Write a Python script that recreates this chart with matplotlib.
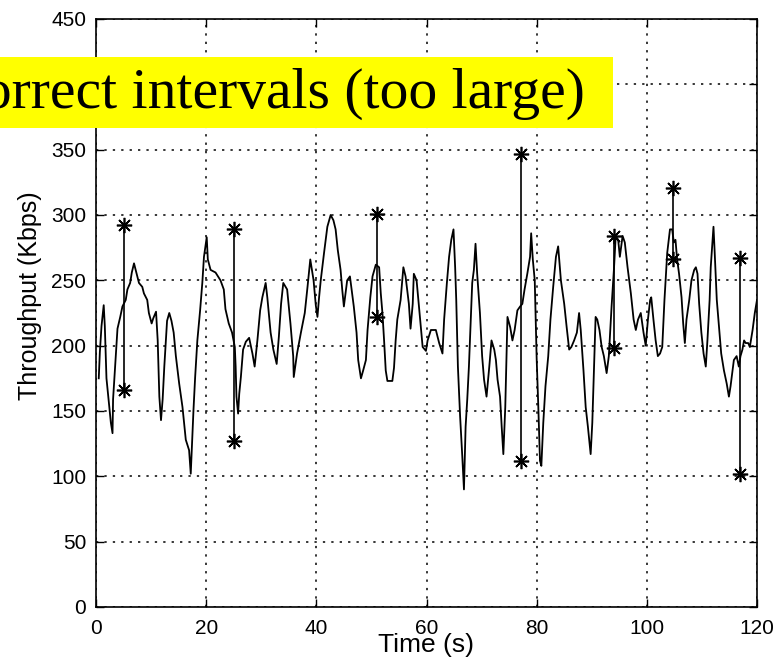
import matplotlib
matplotlib.use("Agg")
import matplotlib.pyplot as plt
from matplotlib.patches import Rectangle

# throughput trace
time_s = [0.5, 0.7, 1.0, 1.4, 1.6, 1.9, 2.7, 3.0, 3.1, 3.6, 3.9, 4.4, 4.8, 5.4, 5.7, 6.2, 6.5, 6.9, 7.2, 7.8,
          8.4, 8.7, 9.3, 9.6, 10.1, 10.4, 10.9, 11.2, 11.5, 11.8, 12.1, 12.4, 12.9, 13.3, 13.7, 14.1, 14.5, 15.1,
          15.7, 16.3, 16.9, 17.2, 17.4, 17.7, 18.0, 18.4, 18.9, 19.3, 19.6, 20.1,
          20.3, 20.8, 21.7, 22.6, 23.2, 23.5, 24.1, 24.7, 25.2, 25.35, 25.5, 25.8, 26.0, 26.3, 26.7, 27.2, 27.8,
          28.4, 28.8, 29.3, 29.8, 30.2, 30.8, 31.1, 31.7, 32.2, 32.8, 33.2, 33.6, 34.0, 34.7, 35.3, 35.8, 35.9,
          36.5, 37.2, 37.9, 38.4, 38.9, 39.5, 39.9,
          40.2, 40.5, 40.8, 41.4, 42.0, 42.6, 43.1, 43.5, 43.9, 44.4, 44.7, 45.0, 45.3, 45.6, 46.1, 46.4, 46.8,
          47.3, 47.6, 48.1, 48.5, 49.0, 49.3, 49.8, 50.2, 50.8, 51.4, 51.7, 52.0, 52.3, 52.6, 52.9, 53.8, 54.1,
          54.4, 54.7, 55.3, 55.8, 56.2, 56.8, 57.1, 57.5, 57.7, 58.2, 58.8, 59.3, 59.9,
          60.2, 60.8, 61.7, 62.3, 62.9, 63.2, 63.7, 64.1, 64.5, 64.9, 65.2, 65.4, 65.7, 66.1, 66.5, 66.8, 67.1,
          67.4, 67.7, 68.0, 68.3, 68.6, 68.9, 69.2, 69.7, 70.1, 70.45, 70.9, 71.4, 71.8, 72.3, 72.6, 72.9, 73.35,
          73.65, 73.95, 74.3, 74.7, 75.2, 75.6, 76.0, 76.5, 77.0, 77.4, 77.8, 78.3, 78.8, 79.0, 79.3, 79.65, 80.0,
          80.3, 80.6, 80.85, 81.2, 81.6, 82.1, 82.5, 83.0, 83.5, 83.9, 84.4, 85.0, 85.45, 85.9, 86.3, 86.8, 87.3,
          87.7, 88.0, 88.5, 88.9, 89.3, 89.8, 90.1, 90.4, 90.7, 91.0, 91.4, 91.8, 92.2, 92.7, 93.1, 93.6, 94.05,
          94.35, 94.8, 95.1, 95.6, 96.0, 96.5, 97.1, 97.6, 98.0, 98.4, 98.9, 99.4, 99.8,
          100.2, 100.6, 100.8, 101.2, 101.6, 102.0, 102.4, 102.8, 103.2, 103.7, 104.2, 104.6, 104.9, 105.2, 105.5,
          105.85, 106.3, 106.6, 106.9, 107.2, 107.7, 108.1, 108.6, 108.9, 109.2, 109.5, 109.9, 110.3, 110.7, 111.0,
          111.4, 111.6, 111.9, 112.1, 112.3, 112.7, 113.1, 113.5, 114.0, 114.5, 114.9, 115.2, 115.5, 115.8, 116.3,
          116.7, 117.0, 117.35, 117.65, 117.95, 118.4, 118.7, 119.2, 119.6, 120.0]
kbps = [175, 195, 215, 231, 215, 175, 141, 133, 159, 192, 213, 222, 230, 235, 243, 248, 256, 263, 258, 248,
        245, 240, 235, 225, 217, 221, 226, 204, 161, 143, 159, 184, 219, 225, 219, 210, 192, 171,
        153, 128, 120, 102, 122, 151, 176, 204, 227, 248, 268, 283,
        266, 258, 256, 250, 243, 228, 217, 210, 199, 184, 161, 148, 163, 176, 197, 203, 206,
        194, 184, 204, 227, 237, 248, 237, 210, 197, 186, 207, 232, 248, 243, 217, 192, 176,
        194, 210, 225, 245, 266, 250, 231,
        222, 237, 250, 271, 291, 300, 296, 289, 273, 258, 243, 230, 240, 250, 253, 243, 230,
        210, 189, 175, 181, 189, 212, 237, 253, 262, 260, 240, 225, 204, 181, 173, 173, 183,
        204, 220, 235, 260, 253, 232, 213, 232, 255, 250, 222, 199, 196,
        204, 212, 212, 202, 194, 220, 248, 268, 281, 289, 260, 235, 184, 146, 115, 90, 138,
        159, 184, 217, 248, 258, 278, 255, 225, 192, 174, 161, 184, 204, 197, 189, 174, 161,
        138, 117, 153, 222, 214, 204, 212, 227, 230, 232, 243, 255, 268, 286, 266, 250, 190,
        153, 112, 108, 141, 169, 192, 220, 245, 268, 276, 250, 232, 214, 197, 199, 204, 210,
        225, 212, 181, 153, 138, 117, 141, 181, 222, 220, 212, 199, 192, 179, 192, 230, 260,
        284, 281, 268, 284, 279, 260, 240, 220, 212, 220, 225, 210, 200,
        220, 235, 237, 220, 204, 192, 194, 199, 235, 271, 289, 289, 279, 281, 266,
        255, 237, 217, 202, 220, 235, 250, 258, 260, 255, 232, 210, 194, 184, 204,
        235, 260, 278, 291, 273, 235, 214, 194, 181, 171, 161, 169, 179, 189, 192,
        184, 192, 197, 204, 202, 202, 199, 212, 225, 235]

# estimated intervals (lower / upper ends marked with asterisks)
err_t = [5.1, 25.05, 51.1, 77.1, 94.0, 104.8, 116.9]
err_lo = [166, 127, 222, 112, 198, 266, 102]
err_hi = [292, 289, 301, 347, 284, 321, 267]

xticks = [0, 20, 40, 60, 80, 100, 120]
yticks = [0, 50, 100, 150, 200, 250, 300, 350, 400, 450]

plt.rcParams['font.family'] = ['Liberation Sans', 'DejaVu Sans']

fig = plt.figure(figsize=(7.78, 6.63), dpi=100)
ax = fig.add_axes([96 / 778, 56 / 663, 661 / 778, 588 / 663])

ax.plot(time_s, kbps, color='k', lw=1.3)
ax.vlines(err_t, err_lo, err_hi, color='k', lw=1.2)
ast = (8, 2, 0)
ax.plot(err_t, err_lo, ls='none', marker=ast, ms=11, mec='k', mew=1.2)
ax.plot(err_t, err_hi, ls='none', marker=ast, ms=11, mec='k', mew=1.2)

ax.set_xlim(0, 120)
ax.set_ylim(0, 450)
ax.set_xticks(xticks)
ax.set_yticks(yticks)
ax.tick_params(direction='in', length=6, top=True, right=True, labelsize=15, width=1)
ax.tick_params(axis='x', pad=9)
ax.tick_params(axis='y', pad=7)
ax.grid(True, color='k', linestyle=(0, (1.5, 4)), linewidth=1.1)
for s in ax.spines.values():
    s.set_linewidth(1.2)

ax.set_xlabel('Time (s)', fontsize=19)
ax.xaxis.set_label_coords(0.5, -0.045)
ax.set_ylabel('Throughput (Kbps)', fontsize=18)
ax.yaxis.set_label_coords(-0.082, 0.53)

# yellow banner, clipped at the left edge of the figure
fig.patches.append(Rectangle((0, (663 - 128) / 663), 613 / 778, 71 / 663,
                             transform=fig.transFigure, facecolor='#ffff00', edgecolor='none', zorder=5))
fig.text(585 / 778, (663 - 94) / 663, 'Incorrect intervals (too large)', fontsize=41.5,
         family='Liberation Serif', ha='right', va='center', zorder=6)

fig.savefig('out.png', dpi=100)
